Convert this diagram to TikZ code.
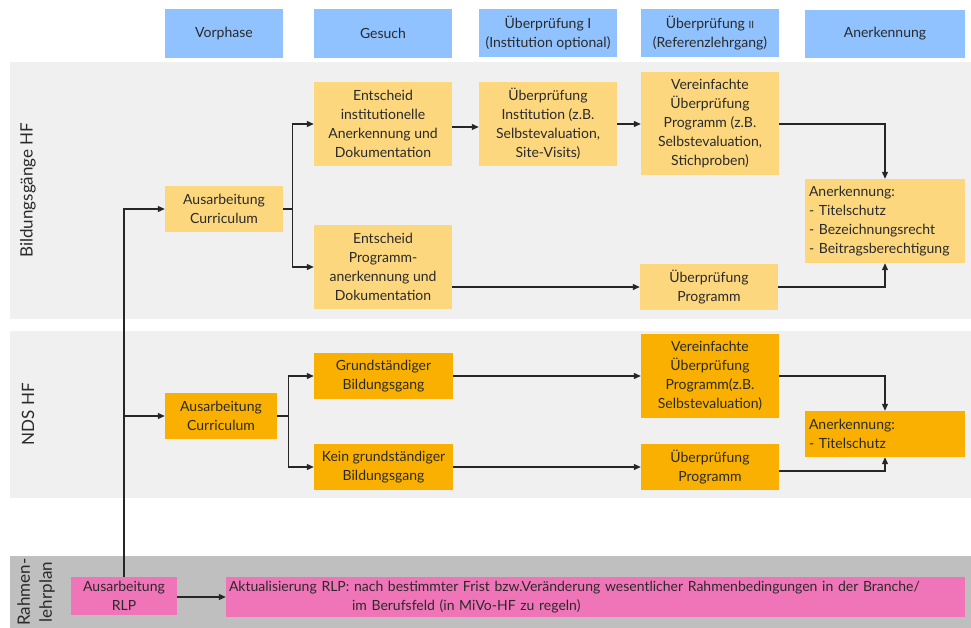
\documentclass[tikz,border=0pt]{standalone}
\usepackage{fontspec}
\setmainfont{Lato}
\usetikzlibrary{arrows.meta}
\definecolor{hdr}{HTML}{8FC2FF}
\definecolor{ylw}{HTML}{FDD77E}
\definecolor{org}{HTML}{F9B000}
\definecolor{pnk}{HTML}{F075B8}
\definecolor{bandA}{HTML}{F0F0F0}
\definecolor{bandB}{HTML}{BFBFBF}
\definecolor{txt}{HTML}{2A2A2A}
\tikzset{
  base/.style={inner sep=0pt, align=center, text=txt, font=\fontsize{14}{19}\selectfont},
  hbox/.style={base, fill=hdr},
  ybox/.style={base, fill=ylw},
  obox/.style={base, fill=org},
  pbox/.style={base, fill=pnk},
  arr/.style={-{Triangle[length=7pt,width=6pt]}, line width=1.1pt, draw=black!85},
  blabel/.style={rotate=90, text=txt, font=\fontsize{17}{22}\selectfont, align=center}
}
\begin{document}
\begin{tikzpicture}[x=1pt,y=-1pt]
\useasboundingbox (0,0) rectangle (971,628);
% bands
\fill[bandA] (10,62) rectangle (971,319);
\fill[bandA] (10,331) rectangle (971,498);
\fill[bandB] (10,556) rectangle (971,628);
\node[blabel] (lHF) at (28,190) {Bildungsgänge HF};
\node[blabel] (lNDS) at (28,414) {NDS HF};
\node[blabel] (lRLP) at (36,592) {Rahmen-\\lehrplan};
% headers
\node[hbox, minimum width=118, minimum height=49] (hV) at (224,33.5) {Vorphase};
\node[hbox, minimum width=138, minimum height=49] (hG) at (383,33.5) {Gesuch};
\node[hbox, minimum width=138, minimum height=48] (hU1) at (548,33) {Überprüfung I\\(Institution optional)};
\node[hbox, minimum width=138, minimum height=48] (hU2) at (710,33) {Überprüfung {\fontsize{10}{10}\selectfont II}\\(Referenzlehrgang)};
\node[hbox, minimum width=160, minimum height=48] (hA) at (885,34) {Anerkennung};
% HF
\node[ybox, minimum width=118, minimum height=46] (cHF) at (224,209) {Ausarbeitung\\Curriculum};
\node[ybox, minimum width=138, minimum height=84] (eI) at (383,124) {Entscheid\\institutionelle\\Anerkennung und\\Dokumentation};
\node[ybox, minimum width=138, minimum height=84] (eP) at (383,267) {Entscheid\\Programm-\\anerkennung und\\Dokumentation};
\node[ybox, minimum width=138, minimum height=84] (uI) at (548,124) {Überprüfung\\Institution (z.B.\\Selbstevaluation,\\Site-Visits)};
\node[ybox, minimum width=138, minimum height=103] (vP) at (710,123.5) {Vereinfachte\\Überprüfung\\Programm (z.B.\\Selbstevaluation,\\Stichproben)};
\node[ybox, minimum width=160, minimum height=84, text width=152pt, align=left] (aHF) at (885,221) {Anerkennung:\\- Titelschutz\\- Bezeichnungsrecht\\- Beitragsberechtigung};
\node[ybox, minimum width=138, minimum height=46] (uP) at (709,287) {Überprüfung\\Programm};
% NDS
\node[obox, minimum width=112, minimum height=46] (cN) at (221,416) {Ausarbeitung\\Curriculum};
\node[obox, minimum width=139, minimum height=46] (gB) at (383.5,376) {Grundständiger\\Bildungsgang};
\node[obox, minimum width=139, minimum height=46] (kB) at (383.5,467) {Kein grundständiger\\Bildungsgang};
\node[obox, minimum width=138, minimum height=84] (vN) at (710,376) {Vereinfachte\\Überprüfung\\Programm(z.B.\\Selbstevaluation)};
\node[obox, minimum width=138, minimum height=46] (uN) at (710,467) {Überprüfung\\Programm};
\node[obox, minimum width=160, minimum height=46, text width=152pt, align=left] (aN) at (885,434) {Anerkennung:\\- Titelschutz};
% RLP
\node[pbox, minimum width=106, minimum height=38] (rA) at (124,596) {Ausarbeitung\\RLP};
\node[pbox, minimum width=739, minimum height=40, text width=733pt, align=left] (rB) at (595.5,597) {Aktualisierung RLP: nach bestimmter Frist bzw.Veränderung wesentlicher Rahmenbedingungen in der Branche/\\\hspace*{123pt}im Berufsfeld (in MiVo-HF zu regeln)};
% connectors
\draw[arr] (rA.north) |- (cHF.west);
\draw[arr] (rA.north) |- (cN.west);
\draw[arr] (cHF.east) -- ++(9,0) |- (eI.west);
\draw[arr] (cHF.east) -- ++(9,0) |- (eP.west);
\draw[arr] ([yshift=-3pt]eI.east) -- ([yshift=-3pt]uI.west);
\draw[arr] (uI.east) -- (vP.west |- uI.east);
\draw[arr] (vP.east |- uI.east) -| (aHF.north);
\draw[arr] (eP.east |- uP.west) -- (uP.west);
\draw[arr] (uP.east) -| (aHF.south);
\draw[arr] (cN.east) -- ++(11,0) |- (gB.west);
\draw[arr] (cN.east) -- ++(11,0) |- (kB.west);
\draw[arr] (gB.east) -- (vN.west);
\draw[arr] (kB.east) -- (uN.west);
\draw[arr] (vN.east) -| (aN.north);
\draw[arr] ([yshift=-4pt]uN.east) -| (aN.south);
\draw[arr] (rA.east |- rB.west) -- (rB.west);
\end{tikzpicture}
\end{document}
